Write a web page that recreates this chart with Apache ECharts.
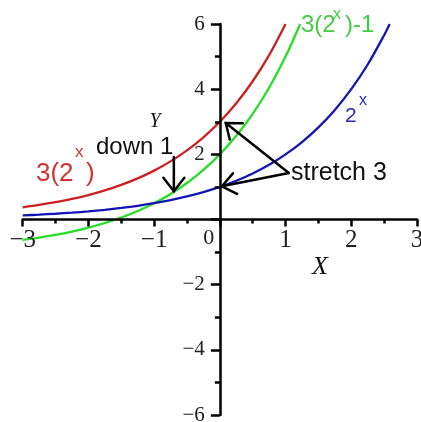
<!DOCTYPE html>
<html>
<head>
<meta charset="utf-8">
<script src="https://cdn.jsdelivr.net/npm/echarts@6/dist/echarts.min.js"></script>
<style>
  html, body { margin: 0; padding: 0; background: #fff; }
  #chart { width: 421px; height: 422px; }
</style>
</head>
<body>
<div id="chart"></div>
<script>
// Sampled points of the three exponential curves
const xBlue  = [-3, -2.75, -2.5, -2.25, -2, -1.75, -1.5, -1.25, -1, -0.75, -0.5, -0.25, 0, 0.25, 0.5, 0.75, 1, 1.25, 1.5, 1.75, 2, 2.25, 2.5, 2.585];
const yBlue  = [0.125, 0.149, 0.177, 0.210, 0.25, 0.297, 0.354, 0.420, 0.5, 0.595, 0.707, 0.841, 1, 1.189, 1.414, 1.682, 2, 2.378, 2.828, 3.364, 4, 4.757, 5.657, 6.0];

const xRed   = [-3, -2.75, -2.5, -2.25, -2, -1.75, -1.5, -1.25, -1, -0.75, -0.5, -0.25, 0, 0.25, 0.5, 0.75, 1];
const yRed   = [0.375, 0.446, 0.530, 0.631, 0.75, 0.892, 1.061, 1.261, 1.5, 1.784, 2.121, 2.523, 3, 3.568, 4.243, 5.045, 6];

const xGreen = [-3, -2.75, -2.5, -2.25, -2, -1.75, -1.5, -1.25, -1, -0.75, -0.5, -0.25, 0, 0.25, 0.5, 0.75, 1, 1.222];
const yGreen = [-0.625, -0.554, -0.470, -0.369, -0.25, -0.108, 0.061, 0.261, 0.5, 0.784, 1.121, 1.523, 2, 2.568, 3.243, 4.045, 5, 6];

// Annotation arrows: [fromX, fromY, toX, toY]
const arrowDown1    = [-0.70, 1.92, -0.70, 0.87];
const arrowStretchA = [1.05, 1.43, 0.09, 2.96];
const arrowStretchB = [1.05, 1.43, 0.03, 1.02];

// Axis ranges and tick steps
const xRange = [-3, 3];
const yRange = [-6, 6];
const xStep = 1;
const yStep = 2;

const pairs = (xs, ys) => xs.map((x, i) => [x, ys[i]]);
const minusFmt = v => (v < 0 ? '\u2212' + (-v) : String(v));

const SERIF = '"Liberation Serif", "Times New Roman", serif';
const SANS = '"Liberation Sans", Arial, sans-serif';

function renderArrow(params, api) {
  const p1 = api.coord([api.value(0), api.value(1)]);
  const p2 = api.coord([api.value(2), api.value(3)]);
  const ang = Math.atan2(p1[1] - p2[1], p1[0] - p2[0]);
  const len = 17, spread = 38 * Math.PI / 180;
  const h1 = [p2[0] + len * Math.cos(ang + spread), p2[1] + len * Math.sin(ang + spread)];
  const h2 = [p2[0] + len * Math.cos(ang - spread), p2[1] + len * Math.sin(ang - spread)];
  const st = { stroke: '#000', lineWidth: 2.5, fill: null, lineCap: 'round', lineJoin: 'miter' };
  return {
    type: 'group',
    children: [
      { type: 'polyline', shape: { points: [p1, p2] }, style: st },
      { type: 'polyline', shape: { points: [h1, p2, h2] }, style: st }
    ]
  };
}

function txt(text, x, y, size, color, family, italicCenter) {
  return {
    type: 'text', x: x, y: y, silent: true,
    style: { text: text, fontSize: size, fontFamily: family || SANS, fill: color || '#000',
             align: italicCenter ? 'center' : 'left', verticalAlign: 'middle',
             fontStyle: italicCenter ? 'italic' : 'normal' }
  };
}

const chart = echarts.init(document.getElementById('chart'), null, { renderer: 'canvas' });

chart.setOption({
  animation: false,
  backgroundColor: '#fff',
  grid: { left: 22.7, right: 4, top: 24, bottom: 7, containLabel: false, outerBoundsMode: 'none' },
  xAxis: {
    type: 'value', position: 'bottom', min: xRange[0], max: xRange[1], interval: xStep, z: 5,
    axisLine: { onZero: false, lineStyle: { color: '#000', width: 2.5 } },
    axisTick: { show: true, length: 7, lineStyle: { color: '#000', width: 2.5 } },
    minorTick: { show: true, splitNumber: 2, length: 4, lineStyle: { color: '#000', width: 2.5 } },
    splitLine: { show: false }, minorSplitLine: { show: false },
    axisLabel: {
      margin: 8, fontSize: 25, fontFamily: SERIF, color: '#222',
      formatter: v => (v === 0 ? '{z|0}' : minusFmt(v)),
      rich: { z: { fontSize: 22, fontFamily: SERIF, color: '#222', padding: [0, 22, 0, 0] } }
    }
  },
  yAxis: {
    type: 'value', position: 'left', min: yRange[0], max: yRange[1], interval: yStep, z: 5,
    axisLine: { onZero: false, lineStyle: { color: '#000', width: 2.5 } },
    axisTick: { show: true, length: 9, lineStyle: { color: '#000', width: 2.5 } },
    minorTick: { show: true, splitNumber: 2, length: 5, lineStyle: { color: '#000', width: 2.5 } },
    splitLine: { show: false }, minorSplitLine: { show: false },
    axisLabel: {
      margin: 15, fontSize: 21, fontFamily: SERIF, color: '#222',
      formatter: v => (v === 0 ? '' : minusFmt(v))
    }
  },
  series: [
    { type: 'line', data: pairs(xRed, yRed), smooth: 0.3, showSymbol: false, z: 2,
      lineStyle: { color: '#cc2020', width: 2.3 } },
    { type: 'line', data: pairs(xGreen, yGreen), smooth: 0.3, showSymbol: false, z: 2,
      lineStyle: { color: '#26de26', width: 2.3 } },
    { type: 'line', data: pairs(xBlue, yBlue), smooth: 0.3, showSymbol: false, z: 2,
      lineStyle: { color: '#1414b4', width: 2.3 } },
    { type: 'custom', renderItem: renderArrow, clip: false, z: 6,
      dimensions: ['x1', 'y1', 'x2', 'y2'], encode: { x: [0, 2], y: [1, 3] },
      data: [arrowDown1, arrowStretchA, arrowStretchB] }
  ],
  graphic: [
    txt('down 1', 96, 147, 24, '#111'),
    txt('stretch 3', 291, 173, 25, '#111'),
    // 3(2^x)
    txt('3(2', 36, 174, 26, '#d03434'),
    txt('x', 75, 152, 17, '#d03434'),
    txt(')', 86, 174, 26, '#d03434'),
    // 2^x
    txt('2', 345, 116, 21, '#2a2ab4'),
    txt('x', 359, 101, 16, '#2a2ab4'),
    // 3(2^x)-1
    txt('3(2', 301, 25, 24, '#44cc44'),
    txt('x', 333, 15, 16, '#44cc44'),
    txt(')-1', 345, 25, 24, '#44cc44'),
    // axis names
    txt('Y', 155, 121.5, 20, '#111', SERIF, true),
    txt('X', 320, 267.5, 26, '#111', SERIF, true)
  ]
});

// Move both axes so they cross at the origin (labels travel with them)
const origin = chart.convertToPixel({ gridIndex: 0 }, [0, 0]);
const corner = chart.convertToPixel({ gridIndex: 0 }, [xRange[0], yRange[0]]);
chart.setOption({
  xAxis: { offset: origin[1] - corner[1] },
  yAxis: { offset: corner[0] - origin[0] }
});
</script>
</body>
</html>
